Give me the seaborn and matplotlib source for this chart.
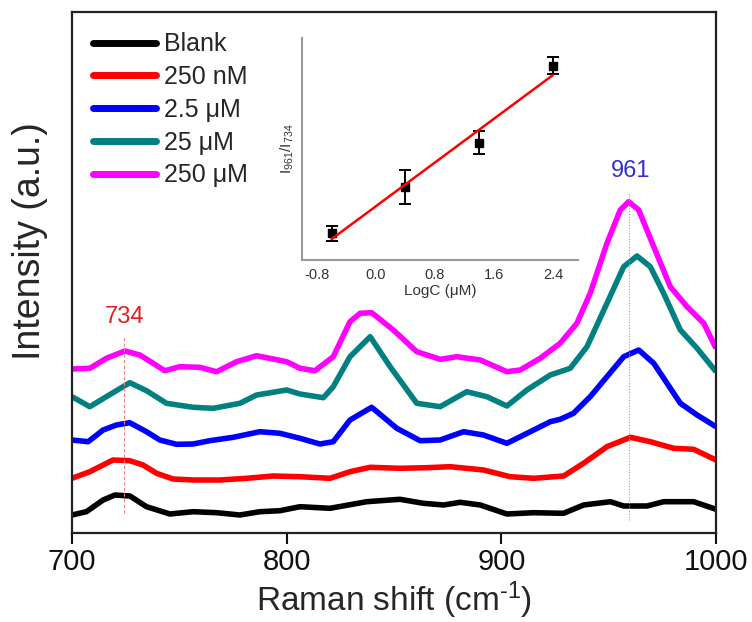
import numpy as np
import pandas as pd
import matplotlib
matplotlib.use("Agg")
import matplotlib.pyplot as plt
import seaborn as sns

# ---------------- data ----------------
labels = ["Blank", "250 nM", "2.5 \u03bcM", "25 \u03bcM", "250 \u03bcM"]
colors = ["#000000", "#ff0000", "#0000ff", "#008080", "#ff00ff"]

x_blank = [700, 706.7, 714.5, 720, 727, 734.7, 745.6, 756.4, 767.4, 778.2, 787.5, 796.9, 806.2, 820.2,
           837.3, 852.8, 863.7, 873.1, 880.8, 890.2, 902.6, 915, 929, 938.3, 950.8, 957, 967.9, 975.6,
           989.6, 1000]
y_blank = [18, 21.3, 33, 38, 37, 26.3, 19, 21.3, 20.3, 18, 21.3, 22.3, 26.3, 24.7,
           31.3, 33.7, 29.7, 28, 30.7, 28, 19, 20.3, 19.7, 28, 31.3, 27, 27, 31.3,
           31.3, 23.7]

x_250nm = [700, 708.3, 719.1, 726.9, 733.1, 739.4, 747.1, 756.4, 768.9, 781.3, 793.7, 806.2, 820.2,
           829.5, 838.9, 852.8, 865.3, 876.2, 891.7, 904.1, 915, 929, 938.3, 949.2, 960.1, 969.4,
           980.3, 989.6, 1000]
y_250nm = [54.7, 61.3, 73, 72.3, 68, 59.7, 54, 53, 53, 54.7, 57, 56.3, 54.7,
           61.3, 65.7, 64.7, 65.3, 66.3, 63, 56.3, 54.7, 57, 69.7, 86.3, 95.7, 91.3,
           84.7, 83.7, 73]

x_2p5um = [700, 707.5, 714.5, 720.7, 726.9, 734.7, 740.9, 748.7, 756.4, 764.2, 775.1, 787.5, 796.9,
           806.2, 815.5, 821.7, 829.5, 839.6, 851.3, 862.2, 871.5, 882.4, 891.7, 902.6, 913.5, 922.8,
           927.4, 933.6, 941.4, 949.2, 957, 964, 971, 977.2, 983.4, 991.2, 1000]
y_2p5um = [93, 91.3, 103, 108, 110.3, 101.3, 93, 88.7, 89, 92.3, 95.7, 101.3, 99.7,
           94.7, 89, 91.3, 113, 125.7, 104.7, 92.3, 93, 101.3, 98, 89.7, 101.3, 111.3,
           113.7, 119.7, 136.3, 156.3, 176.3, 183, 169.7, 149.7, 129.7, 118, 106.3]

x_25um = [700, 708.3, 716, 726.9, 734.7, 744, 756.4, 765.8, 778.2, 786, 800, 806.2, 817.1, 821.7,
          829.5, 838.9, 848.2, 860.6, 871.5, 883.9, 893.3, 902.6, 911.9, 922.8, 932.1, 939.9, 949.2,
          957, 963.2, 969.4, 975.6, 983.4, 991.2, 1000]
y_25um = [136.3, 126.3, 136.3, 150.3, 142.3, 129.7, 125.7, 124.7, 129.7, 138, 143, 139, 135.3, 146.3,
          176.3, 196.3, 166.3, 129.7, 126.3, 141.3, 136.3, 127, 143, 158, 164.7, 186.3, 229.7,
          266.3, 277, 266.3, 239.7, 203, 184.7, 161.3]

x_250um = [700, 708.3, 716, 724.6, 731.6, 737.8, 743.2, 750.2, 759.5, 767.4, 776.7, 786, 800, 806.2,
           813.2, 821.7, 829.5, 834.2, 839.6, 849.7, 860.6, 871.5, 879.3, 890.2, 902.6, 908.8, 918.1,
           927.4, 935.2, 941.4, 949.2, 955.4, 959.3, 964, 971, 978.7, 986.5, 994.3, 1000]
y_250um = [164, 164.7, 174.7, 182, 178, 169.7, 162.3, 166.3, 165.7, 161.3, 171.3, 177.3, 171.3, 164.7,
           162.3, 176.3, 211.3, 219.7, 220.3, 203, 181.3, 173.7, 176.3, 173, 161.3, 163, 174.7,
           189.7, 209.7, 239.7, 289.7, 323, 331.3, 323, 286.3, 246.3, 226.3, 209.7, 184.7]

# inset data
logc = [-0.6, 0.4, 1.4, 2.4]
ratio = [0.267, 0.733, 1.173, 1.943]
ratio_err = [0.073, 0.17, 0.113, 0.083]
inset_ticks = [-0.8, 0.0, 0.8, 1.6, 2.4]

xs = [x_blank, x_250nm, x_2p5um, x_25um, x_250um]
ys = [y_blank, y_250nm, y_2p5um, y_25um, y_250um]
frames = [pd.DataFrame({"shift": x, "intensity": y, "sample": lab}) for x, y, lab in zip(xs, ys, labels)]
df = pd.concat(frames, ignore_index=True)

# ---------------- style ----------------
sns.set_style("white")
plt.rcParams["font.family"] = ["Liberation Sans", "DejaVu Sans"]
plt.rcParams["mathtext.fontset"] = "custom"
plt.rcParams["mathtext.rm"] = "Liberation Sans"
plt.rcParams["mathtext.it"] = "Liberation Sans:italic"

fig = plt.figure(figsize=(7.52, 6.22), dpi=100)
ax = fig.add_axes([72 / 752, (622 - 533) / 622, (716 - 72) / 752, (533 - 12) / 622])

sns.lineplot(data=df, x="shift", y="intensity", hue="sample", hue_order=labels,
             palette=colors, estimator=None, sort=False, linewidth=4.0, ax=ax)
for ln in ax.get_lines():
    ln.set_solid_joinstyle("round")
    ln.set_solid_capstyle("butt")

ax.set_xlim(700, 1000)
ax.set_ylim(0, 521)
ax.set_xticks([700, 800, 900, 1000])
ax.set_yticks([])
ax.tick_params(axis="x", direction="out", length=8, width=1.5, labelsize=21, pad=3,
               colors="#111111", bottom=True)
for s in ax.spines.values():
    s.set_linewidth(1.6)
    s.set_color("#222222")

ax.set_xlabel("Raman shift (cm$^{\u2010 1}$)", fontsize=24, labelpad=2)
ax.set_ylabel("Intensity (a.u.)", fontsize=27)
ax.yaxis.set_label_coords(-0.037, 0.56)

# reference lines and labels
ax.plot([724.3, 724.3], [20, 196], color="#f08080", lw=0.8, ls=(0, (3, 2)))
ax.plot([959.3, 959.3], [13, 340], color="#9999ee", lw=0.8, ls=(0, (1, 1.5)))
ax.text(724.6, 216, "734", color="#e02020", fontsize=17, ha="center", va="center")
ax.text(960.4, 362, "961", color="#3030d0", fontsize=17, ha="center", va="center")

leg = ax.legend(loc="upper left", bbox_to_anchor=(0.032, 0.961), frameon=False, fontsize=18,
                handlelength=2.55, handletextpad=0.3, labelspacing=0.35, borderpad=0,
                borderaxespad=0)
for h in leg.get_lines():
    h.set_linewidth(5)
    h.set_solid_capstyle("round")

# ---------------- inset ----------------
axin = fig.add_axes([302 / 752, (622 - 260) / 622, 276 / 752, 222 / 622])
axin.set_facecolor("none")
sns.regplot(x=logc, y=ratio, scatter=False, ci=None, color="#ff0000",
            line_kws={"linewidth": 1.8, "zorder": 3}, ax=axin)
axin.errorbar(logc, ratio, yerr=ratio_err, fmt="s", color="black", ms=6, capsize=4,
              elinewidth=1.4, capthick=1.4, zorder=2)
axin.set_xlim(-1.0, 2.74)
axin.set_ylim(0, 2.22)
axin.set_xticks(inset_ticks)
axin.set_xticklabels([f"{t:.1f}" for t in inset_ticks])
axin.set_yticks([])
axin.spines["top"].set_visible(False)
axin.spines["right"].set_visible(False)
for s in ["left", "bottom"]:
    axin.spines[s].set_color("#999999")
    axin.spines[s].set_linewidth(1.5)
axin.tick_params(axis="x", direction="out", length=4, width=1, color="#999999",
                 labelsize=10.5, labelcolor="#333333", pad=2)
axin.set_xlabel("LogC (\u03bcM)", fontsize=11, color="#333333", labelpad=1)
axin.set_ylabel("I$_{961}$/I$_{734}$", fontsize=11, color="#333333", labelpad=4)

fig.savefig("out.png", dpi=100)
